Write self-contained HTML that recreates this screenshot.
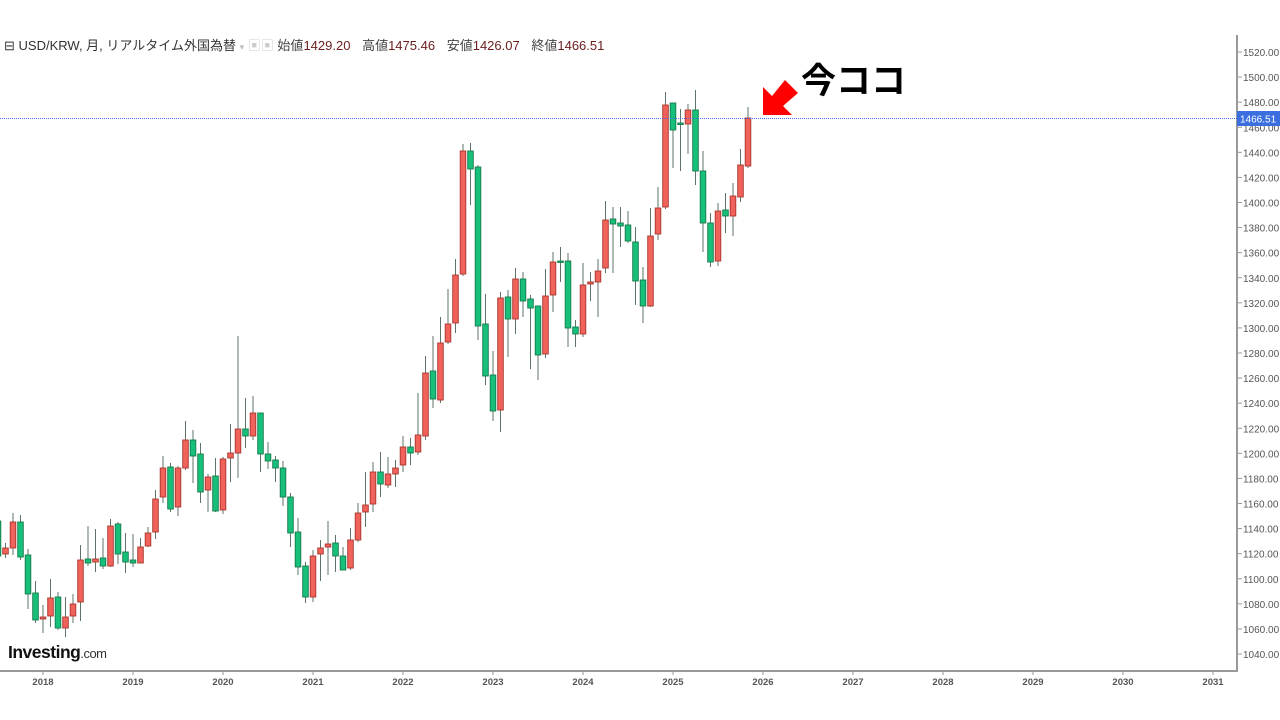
<!DOCTYPE html>
<html><head><meta charset="utf-8">
<style>
html,body{margin:0;padding:0;background:#fff;width:1280px;height:720px;overflow:hidden;font-family:"Liberation Sans","Noto Sans CJK JP",sans-serif;}
#hdr{position:absolute;left:4px;top:35px;font-size:13px;color:#333;white-space:nowrap;}
#hdr .v{color:#6b1d1d;margin-right:8px}
#hdr .k{color:#444}
</style></head><body>
<div id="hdr">⊟ USD/KRW, 月, リアルタイム外国為替 <span style="color:#bbb;font-size:9px">▾</span> <span style="color:#ccc">▣▣</span> <span class="k">始値</span><span class="v">1429.20</span> <span class="k">高値</span><span class="v">1475.46</span> <span class="k">安値</span><span class="v">1426.07</span> <span class="k">終値</span><span class="v">1466.51</span></div>
<svg id="s" width="1280" height="720" style="position:absolute;left:0;top:0" xmlns="http://www.w3.org/2000/svg">
<g id="axis"></g>
<g id="c"></g>
<line x1="0" y1="118.5" x2="1237" y2="118.5" stroke="#4a6fe0" stroke-width="1" stroke-dasharray="1,1"/>
<rect x="1237" y="111" width="43" height="15" fill="#3b6fe0"/>
<text x="1240" y="122.5" font-size="10" fill="#fff" font-family="Liberation Sans">1466.51</text>
<polygon points="763,115 763,87 772,96 785,80 798,93 783,106 792,115" fill="#f00"/>
<text x="801" y="93" font-size="35" font-weight="bold" fill="#000" font-family="Noto Sans CJK JP,sans-serif">今ココ</text>
<text x="8" y="658" font-size="17.5" font-weight="bold" fill="#111" font-family="Liberation Sans" letter-spacing="-0.5">Investing<tspan font-weight="normal" font-size="13" fill="#333">.com</tspan></text>
</svg>
<script>
var ns="http://www.w3.org/2000/svg";
function el(p,t,a){var e=document.createElementNS(ns,t);for(var k in a)e.setAttribute(k,a[k]);p.appendChild(e);return e;}
var ax=document.getElementById('axis');
el(ax,'line',{x1:1237,y1:35,x2:1237,y2:671,stroke:'#999',"stroke-width":2});
el(ax,'line',{x1:0,y1:671,x2:1238,y2:671,stroke:'#999',"stroke-width":2});
for(var p=1520;p>=1040;p-=20){var y=52+(1520-p)*1.2542;
 el(ax,'line',{x1:1238,y1:y,x2:1242,y2:y,stroke:'#999'});
 var t=el(ax,'text',{x:1243,y:y+4,"font-size":10,fill:'#555'});t.textContent=p.toFixed(2);}
for(var yr=2018;yr<=2031;yr++){var x=43+(yr-2018)*90;
 el(ax,'line',{x1:x,y1:671,x2:x,y2:675,stroke:'#999'});
 var t=el(ax,'text',{x:x,y:685,"font-size":9.5,fill:'#555',"text-anchor":'middle',"font-weight":'bold'});t.textContent=yr;}
var d=[
[-6,'g',521,556,515,560],[-5,'r',548,554,543,558],[-4,'r',522,548,513,555],[-3,'g',522,557,515,560],[-2,'g',555,594,549,609],[-1,'g',593,620,581,623],
[0,'r',617,619,605,633],[1,'r',598,616,579,627],[2,'g',597,628,592,630],[3,'r',617,628,597,637],[4,'r',604,616,594,623],[5,'r',560,602,545,621],
[6,'g',559,563,526,566],[7,'r',559,562,529,572],[8,'g',558,566,538,569],[9,'r',526,566,519,567],[10,'g',524,554,522,564],[11,'g',552,562,533,573],
[12,'g',560,563,534,567],[13,'r',547,563,538,563],[14,'r',533,546,527,547],[15,'r',499,532,490,539],[16,'r',468,497,456,503],[17,'g',467,509,463,512],
[18,'r',468,507,466,516],[19,'r',440,468,421,470],[20,'g',440,456,430,483],[21,'g',454,492,443,503],[22,'r',477,490,474,512],[23,'g',476,511,458,512],
[24,'r',459,510,457,514],[25,'r',453,458,424,482],[26,'r',429,453,336,478],[27,'g',429,436,398,448],[28,'r',413,436,396,440],[29,'g',413,454,413,472],
[30,'g',454,461,442,469],[31,'g',460,468,456,482],[32,'g',468,497,461,506],[33,'g',497,533,493,547],[34,'g',532,567,518,575],[35,'g',566,597,562,603],
[36,'r',556,597,550,602],[37,'r',548,554,540,581],[38,'r',544,547,521,575],[39,'g',543,556,535,572],[40,'g',556,570,547,570],[41,'r',540,568,528,570],
[42,'r',513,540,503,542],[43,'r',505,512,472,527],[44,'r',472,504,462,512],[45,'g',472,484,452,497],[46,'r',474,485,457,488],[47,'r',468,474,460,487],
[48,'r',447,465,436,472],[49,'g',447,453,438,465],[50,'r',435,452,393,455],[51,'r',373,436,356,440],[52,'g',371,399,336,408],[53,'r',343,400,317,403],
[54,'r',324,342,289,344],[55,'r',275,323,259,333],[56,'r',151,274,144,276],[57,'g',151,169,143,205],[58,'g',167,326,165,340],[59,'g',324,376,294,385],
[60,'g',375,411,351,421],[61,'r',298,410,292,432],[62,'g',297,319,290,357],[63,'r',279,319,268,334],[64,'g',279,301,272,317],[65,'g',299,308,295,369],
[66,'g',306,355,306,380],[67,'r',296,354,269,358],[68,'r',262,295,252,312],[69,'g',261,262,247,282],[70,'g',261,328,253,347],[71,'g',327,334,320,347],
[72,'r',285,334,263,337],[73,'r',282,284,272,301],[74,'r',271,282,259,317],[75,'r',220,268,201,273],[76,'g',219,224,207,273],[77,'g',223,226,207,247],
[78,'g',225,241,211,243],[79,'g',242,281,227,305],[80,'g',280,306,267,323],[81,'r',236,306,208,307],[82,'r',208,234,187,240],[83,'r',105,207,92,209],
[84,'g',103,130,103,168],[85,'g',123,124,109,171],[86,'r',110,124,104,154],[87,'g',110,171,90,185],[88,'g',171,223,151,252],[89,'g',223,262,213,267],
[90,'r',211,261,203,266],[91,'g',210,216,193,233],[92,'r',196,216,183,236],[93,'r',165,197,149,202],[94,'r',118,166,107,168]];
var c=document.getElementById('c');
d.forEach(function(a){var x=43+7.5*a[0];
 el(c,'line',{x1:x,y1:a[4],x2:x,y2:a[5],stroke:'#5f7468',"stroke-width":1});
 var h=Math.max(a[3]-a[2],1.5);
 el(c,'rect',{x:x-2.8,y:a[2],width:5.6,height:h,fill:a[1]=='r'?'#f0625a':'#17c07a',stroke:a[1]=='r'?'#a8362f':'#167a4c',"stroke-width":0.9});
});
</script>
</body></html>
